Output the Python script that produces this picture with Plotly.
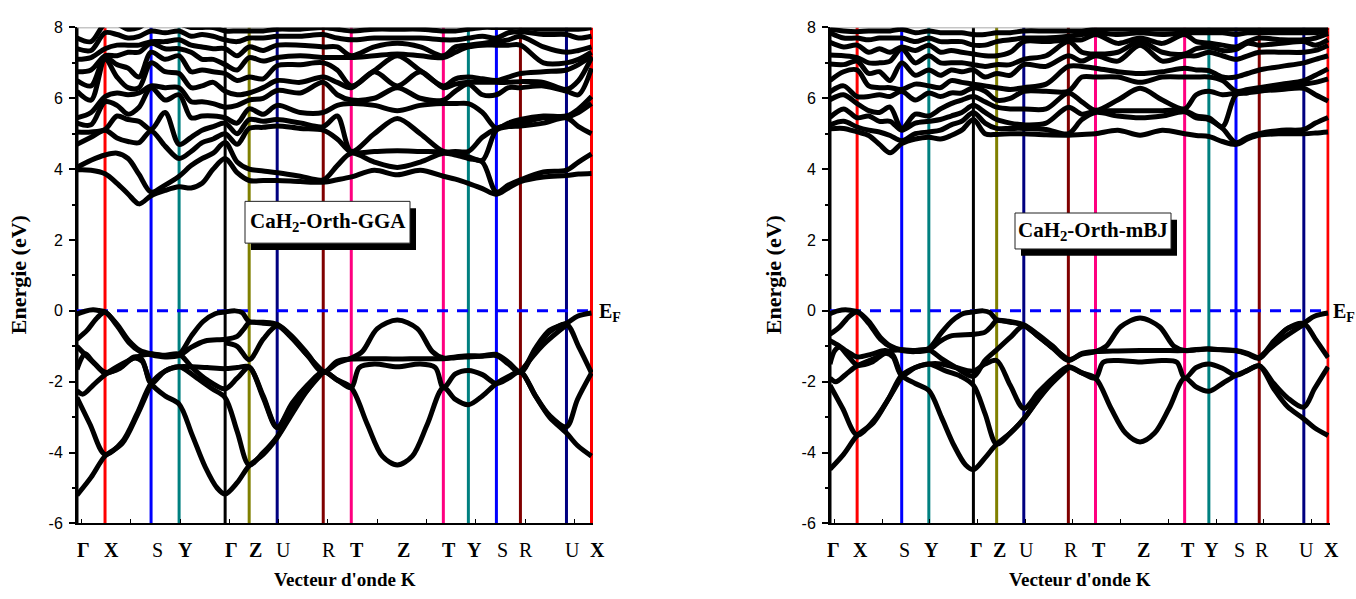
import numpy as np
import plotly.graph_objects as go

W, H = 1356, 599

# ---- k-path (distance along the Brillouin-zone path) ----
K_POINTS = [0, 28, 74, 102, 148, 172, 200, 246, 274, 366, 391, 419, 443, 489, 514]
K_LINE_COLORS = ["#000000", "#FF0000", "#0000FF", "#008080", "#000000", "#808000",
                 "#000080", "#800000", "#FF0080", "#FF0080", "#008080", "#0000FF",
                 "#800000", "#000080", "#FF0000"]
LABEL_K = [0, 28, 74, 102, 148, 172, 200, 246, 274, 320, 366, 391, 419, 443, 489, 514]
LABEL_TEXT = ["Γ", "X", "S", "Y", "Γ", "Z", "U", "R", "T", "Z", "T", "Y", "S", "R", "U", "X"]
LABEL_BOLD = [True, True, False, True, True, True, False, False, True, True, True, True,
              False, False, False, True]

# ---- valence bands, GGA : (k, E) nodes along each band ----
GGA_VB = [
    [(0, -0.09), (8, -0.01), (16, 0.03), (22, 0.01), (28, -0.03), (40, -0.38), (52, -0.85), (63, -1.12),
     (74, -1.21), (88, -1.27), (102, -1.22), (114, -0.72), (126, -0.3), (138, -0.08), (148, -0.03),
     (158, 0.0), (165, -0.05), (172, -0.3), (186, -0.32), (200, -0.38), (214, -0.7), (230, -1.2),
     (246, -1.72), (260, -1.48), (274, -1.33), (285, -1.15), (300, -0.5), (320, -0.26), (340, -0.5),
     (355, -1.15), (366, -1.33), (378, -1.3), (391, -1.27), (405, -1.27), (419, -1.23), (431, -1.45),
     (443, -1.72), (458, -1.05), (472, -0.55), (489, -0.35), (500, -0.15), (514, -0.06)],
    [(0, -0.8), (10, -0.55), (20, -0.2), (28, -0.04), (40, -0.42), (52, -0.9), (63, -1.15), (74, -1.24),
     (88, -1.3), (102, -1.26), (114, -1.03), (128, -0.85), (148, -0.8), (160, -0.72), (167, -0.5),
     (172, -0.33), (186, -0.35), (200, -0.4), (214, -0.75), (230, -1.25), (246, -1.74), (260, -1.42),
     (274, -1.36), (297, -1.35), (320, -1.36), (343, -1.35), (366, -1.35), (378, -1.32), (391, -1.3),
     (405, -1.28), (419, -1.26), (431, -1.5), (443, -1.74), (458, -1.1), (472, -0.6), (489, -0.38),
     (501, -1.0), (514, -1.75)],
    [(0, -1.0), (9, -1.26), (18, -1.5), (28, -1.76), (43, -1.6), (57, -1.33), (65, -1.42), (74, -2.05),
     (88, -2.4), (102, -2.63), (115, -3.5), (128, -4.4), (140, -5.0), (148, -5.17), (160, -4.85),
     (172, -4.37), (186, -4.05), (200, -3.58), (215, -2.9), (230, -2.25), (246, -1.72), (260, -1.95),
     (274, -2.17), (290, -3.2), (305, -4.1), (320, -4.35), (335, -4.1), (350, -3.2), (366, -2.17),
     (378, -2.5), (391, -2.65), (405, -2.4), (419, -2.05), (431, -1.85), (443, -1.72), (458, -2.4),
     (472, -3.0), (489, -3.45), (500, -3.8), (514, -4.1)],
    [(0, -1.65), (8, -1.21), (16, -1.44), (28, -1.73), (43, -1.62), (57, -1.3), (65, -1.38), (74, -2.04),
     (88, -1.7), (102, -1.58), (115, -1.58), (130, -1.6), (148, -1.63), (160, -1.6), (172, -1.58),
     (186, -2.4), (200, -3.28), (215, -2.6), (230, -2.1), (246, -1.72), (260, -1.95), (274, -2.17),
     (282, -1.6), (297, -1.5), (320, -1.58), (343, -1.5), (358, -1.6), (366, -2.17), (378, -1.78),
     (391, -1.68), (405, -1.8), (419, -2.05), (431, -1.9), (443, -1.72), (458, -2.4), (472, -2.95),
     (489, -3.27), (500, -2.5), (514, -1.75)],
    [(0, -2.25), (6, -2.35), (16, -2.1), (28, -1.8), (45, -1.5), (60, -1.3), (74, -1.22), (88, -1.25),
     (102, -1.22), (115, -1.6), (130, -1.95), (148, -2.2), (160, -1.9), (172, -1.6), (186, -2.45),
     (200, -3.3), (215, -2.65), (230, -2.15), (246, -1.72)],
    [(0, -2.45), (13, -3.2), (28, -4.05), (45, -3.7), (60, -2.9), (74, -2.05), (88, -1.7), (102, -1.58),
     (120, -1.9), (135, -2.2), (148, -2.45), (160, -3.4), (172, -4.35), (186, -4.0), (200, -3.55),
     (220, -2.6), (246, -1.72)],
    [(0, -5.2), (14, -4.7), (28, -4.1), (45, -3.75), (60, -2.95), (74, -2.05)],
    [(148, -0.9), (160, -1.0), (172, -1.38), (186, -0.8), (200, -0.42), (215, -0.75), (230, -1.25),
     (246, -1.72)],
    [(443, -1.72), (466, -0.95), (489, -0.4)],
]

# ---- valence bands, mBJ ----
MBJ_VB = [
    [(0, -0.08), (8, 0.0), (16, 0.03), (22, 0.01), (28, -0.02), (40, -0.3), (52, -0.75), (63, -1.0),
     (74, -1.1), (88, -1.12), (102, -1.06), (114, -0.65), (126, -0.28), (138, -0.07), (148, -0.03),
     (158, 0.0), (165, -0.05), (172, -0.25), (186, -0.3), (200, -0.39), (214, -0.65), (230, -1.0),
     (246, -1.38), (260, -1.22), (274, -1.15), (285, -1.0), (300, -0.45), (320, -0.2), (340, -0.45),
     (355, -1.0), (366, -1.12), (378, -1.1), (391, -1.07), (405, -1.1), (419, -1.12), (431, -1.2),
     (443, -1.32), (458, -0.85), (472, -0.5), (489, -0.34), (500, -0.15), (514, -0.06)],
    [(0, -0.66), (10, -0.45), (20, -0.15), (28, -0.03), (40, -0.35), (52, -0.8), (63, -1.02), (74, -1.12),
     (88, -1.15), (102, -1.1), (114, -0.85), (126, -0.7), (148, -0.66), (160, -0.6), (167, -0.42),
     (172, -0.27), (186, -0.32), (200, -0.41), (214, -0.7), (230, -1.05), (246, -1.4), (260, -1.2),
     (274, -1.15), (297, -1.13), (320, -1.12), (343, -1.12), (366, -1.12), (378, -1.09), (391, -1.08),
     (405, -1.1), (419, -1.13), (431, -1.22), (443, -1.34), (458, -0.9), (472, -0.5), (489, -0.36),
     (501, -0.8), (514, -1.32)],
    [(0, -0.84), (9, -0.98), (18, -1.15), (28, -1.3), (43, -1.22), (57, -1.12), (65, -1.25), (74, -1.82),
     (88, -2.05), (102, -2.25), (115, -3.0), (128, -3.8), (140, -4.35), (148, -4.48), (160, -4.15),
     (172, -3.76), (186, -3.45), (200, -3.05), (215, -2.5), (230, -2.0), (246, -1.6), (260, -1.75),
     (274, -1.9), (290, -2.75), (305, -3.45), (320, -3.7), (335, -3.45), (350, -2.75), (366, -1.9),
     (378, -2.15), (391, -2.27), (405, -2.05), (419, -1.82), (431, -1.68), (443, -1.55), (458, -2.2),
     (472, -2.7), (489, -3.05), (500, -3.3), (514, -3.52)],
    [(0, -1.5), (5, -1.12), (10, -1.03), (18, -1.25), (28, -1.53), (43, -1.45), (57, -1.2), (65, -1.3),
     (74, -1.82), (88, -1.6), (102, -1.5), (115, -1.5), (130, -1.6), (148, -1.7), (160, -1.5),
     (172, -1.4), (186, -2.1), (200, -2.75), (215, -2.3), (230, -1.9), (246, -1.58), (260, -1.75),
     (274, -1.9), (282, -1.45), (297, -1.4), (320, -1.44), (343, -1.4), (358, -1.45), (366, -1.9),
     (378, -1.6), (391, -1.5), (405, -1.62), (419, -1.82), (431, -1.68), (443, -1.55), (458, -2.05),
     (472, -2.45), (489, -2.72), (500, -2.2), (514, -1.58)],
    [(0, -1.9), (6, -2.0), (16, -1.8), (28, -1.55), (45, -1.35), (60, -1.15), (74, -1.1), (88, -1.12),
     (102, -1.1), (115, -1.35), (130, -1.6), (148, -1.85), (160, -1.4), (172, -1.1), (186, -0.75),
     (200, -0.42), (215, -0.72), (230, -1.05), (246, -1.38)],
    [(0, -2.1), (13, -2.75), (28, -3.5), (45, -3.1), (60, -2.5), (74, -1.82), (88, -1.6), (102, -1.5),
     (120, -1.7), (135, -1.85), (148, -2.1), (160, -2.9), (172, -3.76), (186, -3.45), (200, -3.05),
     (220, -2.3), (246, -1.6)],
    [(0, -4.47), (14, -4.05), (28, -3.52), (45, -3.15), (60, -2.5), (74, -1.85)],
    [(443, -1.32), (466, -0.8), (489, -0.38)],
]

# ---- conduction bands: energies (ascending) at each k of K_CB ----
K_CB = [0, 14, 28, 40, 51, 62, 74, 88, 102, 114, 125, 136, 148, 160, 172, 186, 200, 223, 246, 260,
        274, 297, 320, 343, 366, 378, 391, 405, 419, 431, 443, 466, 489, 501, 514]

GGA_CB = [
    [3.98, 4.05, 4.70, 5.05, 5.30, 5.45, 6.20, 6.50, 6.75, 7.10, 7.40, 7.70],
    [3.97, 4.25, 4.90, 5.05, 5.25, 5.60, 5.95, 6.35, 6.80, 7.15, 7.35, 7.60],
    [3.87, 4.40, 5.10, 5.12, 5.90, 6.05, 7.10, 7.15, 7.20, 7.40, 7.85, 8.10],
    [3.60, 4.45, 4.88, 5.50, 5.80, 6.15, 6.60, 6.95, 7.20, 7.50, 7.80, 8.10],
    [3.30, 4.30, 4.78, 5.40, 5.55, 6.10, 6.30, 6.85, 7.30, 7.50, 7.70, 7.95],
    [3.02, 3.85, 4.75, 5.35, 5.75, 6.15, 6.30, 6.60, 7.30, 7.50, 7.75, 8.00],
    [3.25, 3.35, 5.08, 5.12, 6.30, 6.35, 7.00, 7.30, 7.55, 7.60, 7.90, 8.20],
    [3.40, 3.55, 4.65, 5.60, 5.95, 6.30, 6.75, 7.10, 7.40, 7.60, 7.85, 8.10],
    [3.50, 3.80, 4.30, 4.70, 6.10, 6.30, 6.70, 7.20, 7.40, 7.65, 7.90, 8.10],
    [3.47, 4.10, 4.50, 4.90, 5.45, 5.90, 6.30, 6.75, 7.30, 7.50, 7.75, 8.00],
    [3.60, 4.30, 4.75, 5.10, 5.50, 5.90, 6.35, 6.80, 7.10, 7.45, 7.80, 8.00],
    [4.00, 4.45, 4.85, 5.20, 5.50, 5.85, 6.45, 6.75, 7.10, 7.40, 7.75, 8.00],
    [4.30, 4.75, 5.00, 5.30, 5.45, 5.75, 6.20, 6.70, 6.95, 7.40, 7.65, 7.90],
    [3.90, 4.20, 4.70, 5.00, 5.30, 5.80, 6.10, 6.50, 6.80, 7.20, 7.60, 7.90],
    [3.68, 4.00, 5.15, 5.40, 5.70, 5.95, 6.15, 6.60, 7.15, 7.45, 7.70, 7.90],
    [3.68, 3.95, 5.18, 5.35, 5.55, 6.00, 6.30, 6.55, 7.05, 7.35, 7.70, 7.90],
    [3.68, 3.90, 5.22, 5.40, 5.80, 6.22, 6.50, 6.92, 7.15, 7.50, 7.75, 7.95],
    [3.65, 3.80, 5.15, 5.30, 5.60, 6.15, 6.45, 6.95, 7.20, 7.50, 7.75, 7.95],
    [3.63, 3.70, 5.10, 5.20, 5.60, 6.45, 6.60, 7.00, 7.15, 7.45, 7.80, 8.00],
    [3.70, 4.10, 4.85, 5.50, 5.80, 6.10, 6.45, 6.80, 7.15, 7.45, 7.70, 7.95],
    [3.78, 4.45, 4.48, 4.50, 5.85, 5.95, 6.30, 6.35, 7.15, 7.20, 7.65, 7.90],
    [3.97, 4.20, 4.50, 5.00, 5.80, 6.00, 6.75, 6.78, 7.20, 7.45, 7.70, 7.95],
    [3.84, 4.05, 4.52, 5.43, 5.65, 6.30, 6.35, 7.20, 7.25, 7.55, 7.70, 7.95],
    [3.97, 4.20, 4.50, 5.00, 5.80, 6.00, 6.75, 6.78, 7.20, 7.45, 7.70, 7.95],
    [3.80, 4.45, 4.48, 4.50, 5.85, 5.95, 6.30, 6.35, 7.15, 7.20, 7.65, 7.90],
    [3.72, 4.40, 4.42, 4.50, 5.85, 6.20, 6.40, 6.55, 7.30, 7.45, 7.65, 7.90],
    [3.60, 4.30, 4.35, 4.50, 5.85, 6.40, 6.45, 6.60, 7.45, 7.50, 7.70, 7.95],
    [3.45, 4.20, 4.25, 4.90, 5.60, 6.10, 6.45, 6.55, 7.50, 7.55, 7.75, 8.00],
    [3.29, 3.35, 5.10, 5.15, 5.15, 6.10, 6.45, 6.50, 7.50, 7.60, 7.70, 8.00],
    [3.47, 3.55, 5.20, 5.25, 5.30, 6.30, 6.45, 6.60, 7.50, 7.65, 7.85, 8.00],
    [3.65, 3.70, 5.22, 5.30, 5.40, 6.30, 6.47, 6.70, 7.50, 7.75, 7.88, 8.00],
    [3.78, 3.92, 5.30, 5.45, 5.50, 6.35, 6.45, 6.75, 7.00, 7.45, 7.80, 7.95],
    [3.82, 3.97, 5.45, 5.47, 5.50, 6.20, 6.25, 6.80, 7.00, 7.30, 7.80, 7.95],
    [3.86, 4.20, 5.20, 5.60, 5.70, 6.10, 6.50, 6.95, 7.10, 7.35, 7.70, 7.95],
    [3.88, 4.43, 5.00, 5.85, 6.05, 6.85, 7.15, 7.20, 7.30, 7.45, 7.75, 8.00],
]

MBJ_CB = [
    [5.14, 5.25, 5.46, 5.96, 6.18, 6.50, 6.97, 7.22, 7.58, 7.85, 7.95, 8.10],
    [5.15, 5.35, 5.70, 6.10, 6.35, 6.75, 6.95, 7.20, 7.45, 7.70, 7.90, 8.10],
    [5.05, 5.19, 5.45, 5.85, 6.05, 6.80, 7.05, 7.15, 7.50, 7.70, 7.88, 8.10],
    [4.95, 5.10, 5.50, 5.65, 6.05, 6.35, 6.70, 7.00, 7.30, 7.65, 7.90, 8.10],
    [4.70, 5.05, 5.35, 5.60, 6.10, 6.30, 6.75, 7.00, 7.40, 7.70, 7.90, 8.10],
    [4.46, 4.95, 5.35, 5.75, 6.05, 6.30, 6.50, 7.05, 7.30, 7.70, 7.90, 8.10],
    [4.72, 4.80, 5.10, 5.15, 6.20, 6.25, 7.00, 7.40, 7.45, 7.70, 7.95, 8.10],
    [4.85, 5.00, 5.30, 5.55, 5.95, 6.40, 6.65, 7.00, 7.35, 7.60, 7.85, 8.10],
    [4.90, 5.05, 5.35, 5.50, 6.15, 6.35, 6.80, 7.20, 7.50, 7.70, 7.90, 8.10],
    [4.85, 5.10, 5.40, 5.70, 6.05, 6.30, 6.65, 7.00, 7.30, 7.60, 7.85, 8.10],
    [4.95, 5.25, 5.50, 5.85, 6.15, 6.50, 6.80, 7.00, 7.35, 7.60, 7.85, 8.10],
    [5.10, 5.35, 5.60, 5.95, 6.15, 6.45, 6.75, 7.00, 7.30, 7.60, 7.85, 8.10],
    [5.40, 5.60, 5.80, 6.05, 6.30, 6.40, 6.80, 6.95, 7.25, 7.50, 7.80, 8.10],
    [5.00, 5.30, 5.60, 5.90, 6.20, 6.35, 6.60, 6.90, 7.20, 7.50, 7.80, 8.10],
    [4.98, 5.15, 5.40, 5.75, 5.95, 6.30, 6.70, 6.95, 7.20, 7.60, 7.85, 8.10],
    [5.00, 5.15, 5.30, 5.70, 6.00, 6.25, 6.65, 6.95, 7.30, 7.65, 7.85, 8.10],
    [5.00, 5.15, 5.25, 5.70, 6.20, 6.30, 6.95, 7.10, 7.60, 7.70, 7.90, 8.10],
    [4.97, 5.12, 5.30, 5.70, 6.20, 6.40, 6.90, 7.20, 7.60, 7.70, 7.90, 8.10],
    [4.96, 5.00, 5.75, 6.15, 6.20, 6.90, 7.20, 7.60, 7.65, 7.75, 7.90, 8.10],
    [4.98, 5.40, 5.55, 5.90, 6.60, 6.90, 7.05, 7.30, 7.65, 7.80, 7.90, 8.10],
    [5.00, 5.60, 5.64, 5.66, 6.60, 6.85, 7.20, 7.25, 7.80, 7.85, 7.95, 8.10],
    [5.10, 5.50, 5.65, 5.95, 6.60, 6.75, 7.05, 7.30, 7.55, 7.80, 7.95, 8.10],
    [4.96, 5.45, 5.65, 6.28, 6.45, 6.70, 7.50, 7.60, 7.70, 7.85, 7.95, 8.10],
    [5.10, 5.50, 5.65, 5.95, 6.60, 6.75, 7.05, 7.30, 7.55, 7.80, 7.95, 8.10],
    [5.00, 5.62, 5.66, 5.70, 6.60, 6.85, 7.20, 7.25, 7.80, 7.85, 7.95, 8.10],
    [4.95, 5.45, 5.50, 6.10, 6.60, 6.80, 7.20, 7.40, 7.60, 7.85, 7.95, 8.10],
    [4.92, 5.40, 5.45, 6.20, 6.60, 6.78, 7.30, 7.45, 7.56, 7.85, 7.95, 8.10],
    [4.78, 5.15, 5.20, 6.10, 6.50, 6.60, 7.20, 7.35, 7.50, 7.85, 7.95, 8.10],
    [4.70, 4.75, 6.10, 6.15, 6.20, 6.60, 7.10, 7.38, 7.45, 7.80, 7.95, 8.10],
    [4.85, 4.90, 6.15, 6.20, 6.25, 6.70, 7.20, 7.55, 7.60, 7.85, 7.95, 8.10],
    [4.96, 5.00, 6.20, 6.22, 6.30, 6.80, 7.30, 7.50, 7.70, 7.85, 7.95, 8.10],
    [5.00, 5.10, 6.25, 6.30, 6.40, 6.90, 7.30, 7.55, 7.65, 7.85, 7.95, 8.10],
    [5.00, 5.12, 6.28, 6.40, 6.50, 7.00, 7.30, 7.60, 7.65, 7.85, 7.95, 8.10],
    [5.02, 5.30, 6.10, 6.45, 6.65, 7.10, 7.35, 7.50, 7.70, 7.85, 7.95, 8.10],
    [5.05, 5.46, 5.92, 6.55, 6.83, 7.20, 7.50, 7.65, 7.83, 7.90, 8.00, 8.10],
]

PANEL_TITLES = ["CaH<sub>2</sub>-Orth-GGA", "CaH<sub>2</sub>-Orth-mBJ"]
Y_TICKS = [-6, -4, -2, 0, 2, 4, 6, 8]
Y_TICK_TEXT = ["-6", "-4", "-2", "0", "2", "4", "6", "8"]
E_RANGE = [-6, 8]
K_RANGE = [0, 515.5]


def px_x(px):
    return px / W


def px_y(py):
    return 1 - py / H


SERIF = "Liberation Serif, Times New Roman, serif"
SANS = "Liberation Sans, Arial, sans-serif"

panels = [
    dict(ax="", x0=77, x1=593, vb=GGA_VB, cb=GGA_CB, title=PANEL_TITLES[0],
         box=(245, 199, 410, 242), ytitle_x=18, xtitle_x=345, ef_x=597, lab_shift=6),
    dict(ax="2", x0=830, x1=1329.5, vb=MBJ_VB, cb=MBJ_CB, title=PANEL_TITLES[1],
         box=(1015, 211, 1171, 248), ytitle_x=773, xtitle_x=1080, ef_x=1331, lab_shift=3),
]

fig = go.Figure()
shapes, annotations = [], []
y_dom = [px_y(530.5), px_y(20)]
band_line = dict(color="black", width=5, shape="spline", smoothing=0.9)

for p in panels:
    xa, ya = "x" + p["ax"], "y" + p["ax"]

    # high-symmetry vertical lines
    for k, c in zip(K_POINTS, K_LINE_COLORS):
        shapes.append(dict(type="line", xref=xa, yref=ya, x0=k, x1=k, y0=E_RANGE[0], y1=E_RANGE[1],
                           line=dict(color=c, width=3), layer="below"))
    # frame top line
    shapes.append(dict(type="line", xref=xa, yref=ya, x0=K_RANGE[0], x1=K_POINTS[-1], y0=8, y1=8,
                       line=dict(color="#8c8c8c", width=1.5), layer="below"))

    # Fermi level
    fig.add_trace(go.Scatter(x=[0, K_POINTS[-1]], y=[0, 0], mode="lines", xaxis=xa, yaxis=ya,
                             line=dict(color="#0000FF", width=3, dash="11px,9px"),
                             hoverinfo="skip", showlegend=False))

    # valence bands
    for band in p["vb"]:
        ks, es = zip(*band)
        fig.add_trace(go.Scatter(x=ks, y=es, mode="lines", xaxis=xa, yaxis=ya, line=band_line,
                                 hoverinfo="skip", showlegend=False))
    # conduction bands
    cb = np.array(p["cb"])
    for j in range(cb.shape[1]):
        fig.add_trace(go.Scatter(x=K_CB, y=cb[:, j], mode="lines", xaxis=xa, yaxis=ya, line=band_line,
                                 hoverinfo="skip", showlegend=False))

    # k-point labels
    for k, t, b in zip(LABEL_K, LABEL_TEXT, LABEL_BOLD):
        annotations.append(dict(x=k, y=px_y(558), xref=xa, yref="paper", text=f"<b>{t}</b>" if b else t,
                                showarrow=False, xshift=p["lab_shift"], xanchor="center", yanchor="middle",
                                font=dict(family=SERIF, size=20, color="black")))

    # axis titles
    annotations.append(dict(x=px_x(p["ytitle_x"]), y=px_y(275), xref="paper", yref="paper",
                            text="<b>Energie (eV)</b>", textangle=-90, showarrow=False,
                            xanchor="center", yanchor="middle",
                            font=dict(family=SERIF, size=22, color="black")))
    annotations.append(dict(x=px_x(p["xtitle_x"]), y=px_y(588), xref="paper", yref="paper",
                            text="<b>Vecteur d'onde K</b>", showarrow=False,
                            xanchor="center", yanchor="middle",
                            font=dict(family=SERIF, size=19, color="black")))
    # Fermi label
    annotations.append(dict(x=px_x(p["ef_x"]), y=0, xref="paper", yref=ya, text="<b>E<sub>F</sub></b>",
                            showarrow=False, xanchor="left", yanchor="middle", yshift=-2,
                            font=dict(family=SERIF, size=20, color="black")))

    # label box with drop shadow
    bx0, by0, bx1, by1 = p["box"]
    shapes.append(dict(type="rect", xref="paper", yref="paper", x0=px_x(bx0 + 6), x1=px_x(bx1 + 6),
                       y0=px_y(by1 + 7), y1=px_y(by0 + 7), fillcolor="black", line=dict(width=0),
                       layer="above"))
    shapes.append(dict(type="rect", xref="paper", yref="paper", x0=px_x(bx0), x1=px_x(bx1),
                       y0=px_y(by1), y1=px_y(by0), fillcolor="white", line=dict(color="#222", width=1),
                       layer="above"))
    annotations.append(dict(x=px_x((bx0 + bx1) / 2), y=px_y((by0 + by1) / 2), xref="paper", yref="paper",
                            text=f"<b>{p['title']}</b>", showarrow=False, xanchor="center", yanchor="middle",
                            font=dict(family=SERIF, size=21, color="black")))

x_inner_ticks = [4.5 + 49.25 * i for i in range(11)]

axis_x = dict(range=K_RANGE, showgrid=False, zeroline=False, showline=True, linecolor="black", linewidth=2,
              ticks="inside", tickvals=x_inner_ticks, ticklen=4, tickcolor="black", showticklabels=False)
axis_y = dict(range=E_RANGE, domain=y_dom, showgrid=False, zeroline=False, showline=True, linecolor="black",
              linewidth=2, ticks="outside", tickvals=Y_TICKS, ticktext=Y_TICK_TEXT, ticklen=6, tickwidth=1.5,
              tickcolor="black", ticklabelstandoff=3, tickfont=dict(family=SANS, size=16, color="black"),
              minor=dict(tickvals=[-5, -3, -1, 1, 3, 5, 7], ticklen=3, ticks="outside", tickcolor="black"))

fig.update_layout(
    width=W, height=H, margin=dict(l=0, r=0, t=0, b=0),
    paper_bgcolor="white", plot_bgcolor="white", showlegend=False,
    xaxis=dict(axis_x, domain=[px_x(panels[0]["x0"]), px_x(panels[0]["x1"])], anchor="y"),
    yaxis=dict(axis_y, anchor="x"),
    xaxis2=dict(axis_x, domain=[px_x(panels[1]["x0"]), px_x(panels[1]["x1"])], anchor="y2"),
    yaxis2=dict(axis_y, anchor="x2"),
    shapes=shapes, annotations=annotations,
)

fig.write_html("out.html")
